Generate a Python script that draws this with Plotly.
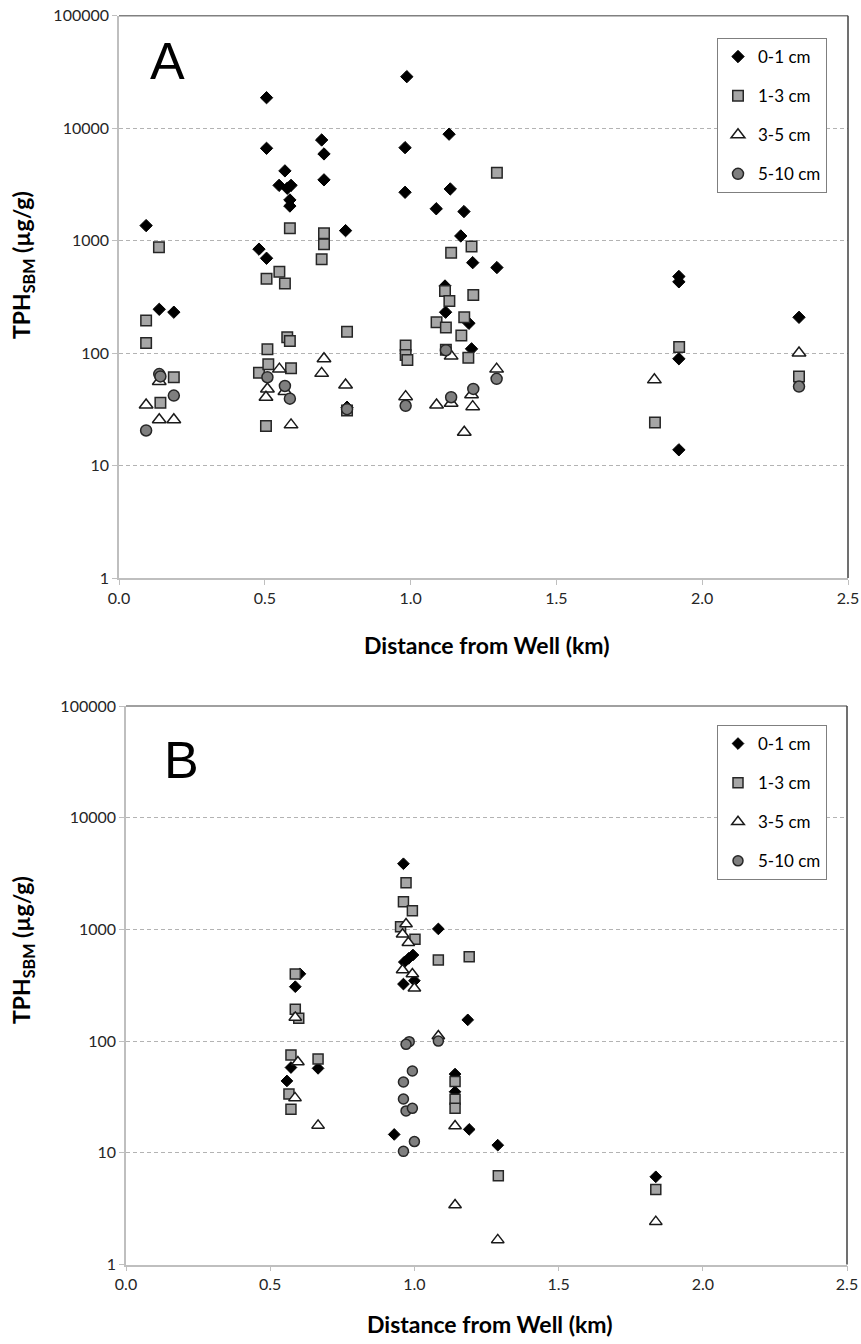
import plotly.graph_objects as go

# ---------------- Panel A data ----------------
A_d01_x = [0.093, 0.138, 0.188, 0.480, 0.506, 0.506, 0.506, 0.569, 0.549, 0.577, 0.590, 0.586, 0.586,
           0.695, 0.703, 0.703, 0.777, 0.782, 0.987, 0.981, 0.981, 1.088, 1.132, 1.136, 1.172, 1.183,
           1.213, 1.296, 1.118, 1.120, 1.200, 1.209, 1.920, 1.920, 1.920, 1.920, 2.332]
A_d01_y = [1360, 245, 231, 840, 18660, 6620, 697, 4170, 3100, 2920, 3100, 2300, 2030,
           7850, 5900, 3470, 1227, 33, 28700, 6710, 2690, 1920, 8840, 2880, 1100, 1813,
           637, 576, 395, 231, 184, 109, 480, 430, 89, 13.8, 208]

A_d13_x = [0.093, 0.093, 0.137, 0.142, 0.188, 0.480, 0.509, 0.512, 0.504, 0.506, 0.550, 0.569, 0.577,
           0.586, 0.586, 0.590, 0.695, 0.703, 0.703, 0.782, 0.782, 0.983, 0.983, 0.989, 1.089, 1.121,
           1.121, 1.118, 1.133, 1.139, 1.174, 1.184, 1.198, 1.209, 1.215, 1.296, 1.838, 1.921, 2.332]
A_d13_y = [195, 123, 873, 36.2, 61, 67, 108, 79.6, 22.5, 459, 530, 415, 138,
           128, 1290, 73.4, 684, 929, 1165, 155, 30.8, 117, 96, 87, 188, 169,
           107, 357, 291, 782, 143, 208, 91, 885, 329, 4020, 24.1, 113, 61.8]

A_d35_x = [0.093, 0.138, 0.138, 0.188, 0.509, 0.504, 0.550, 0.569, 0.590, 0.695, 0.703, 0.777,
           0.983, 1.089, 1.139, 1.139, 1.184, 1.209, 1.213, 1.295, 1.836, 2.332]
A_d35_y = [34.5, 55.8, 25.5, 25.5, 48, 40.5, 72, 45.5, 23, 66, 89, 52,
           41, 34.5, 94, 35.8, 19.8, 42.6, 33.4, 72, 57.8, 100]

A_d510_x = [0.093, 0.138, 0.142, 0.188, 0.509, 0.569, 0.586, 0.782, 0.983, 1.121, 1.139, 1.215, 1.295, 2.332]
A_d510_y = [20.5, 65, 62, 41.9, 61, 51, 39.3, 31.7, 34, 106, 40.5, 48, 59, 50.4]

# ---------------- Panel B data ----------------
B_d01_x = [0.558, 0.572, 0.587, 0.603, 0.666, 0.962, 0.930, 0.965, 0.980, 0.995, 0.962, 1.000,
           1.083, 1.141, 1.141, 1.185, 1.190, 1.289, 1.837]
B_d01_y = [44, 58, 307, 400, 57, 3870, 14.6, 510, 550, 590, 324, 347,
           1010, 50.7, 35.2, 155, 16.2, 11.7, 6.1]

B_d13_x = [0.572, 0.565, 0.572, 0.587, 0.587, 0.599, 0.666, 0.971, 0.962, 0.993, 0.952, 1.002,
           1.083, 1.190, 1.141, 1.141, 1.141, 1.291, 1.837]
B_d13_y = [75, 33.6, 24.5, 399, 193, 160, 69, 2620, 1770, 1470, 1057, 815,
           532, 570, 43.4, 30.1, 25, 6.23, 4.7]

B_d35_x = [0.587, 0.596, 0.586, 0.666, 0.971, 0.959, 0.979, 0.959, 0.993, 1.000, 1.083, 1.141,
           1.141, 1.289, 1.837]
B_d35_y = [163, 65, 31, 17.6, 1117, 904, 760, 433, 399, 297, 111, 17.4,
           3.41, 1.66, 2.42]

B_d510_x = [0.982, 0.971, 1.083, 0.993, 0.962, 0.962, 0.971, 0.993, 1.000, 0.962]
B_d510_y = [98.8, 93.5, 100, 54, 43, 30.3, 23.7, 25, 12.6, 10.3]

series_names = ["0-1 cm", "1-3 cm", "3-5 cm", "5-10 cm"]
tick_vals = [1, 10, 100, 1000, 10000, 100000]
tick_text = ["1", "10", "100", "1000", "10000", "100000"]
x_ticks = [0.0, 0.5, 1.0, 1.5, 2.0, 2.5]
x_tick_text = ["0.0", "0.5", "1.0", "1.5", "2.0", "2.5"]

styles = [
    dict(symbol="diamond", color="#000000", line=dict(color="#000000", width=1)),
    dict(symbol="square", color="#a6a6a6", line=dict(color="#262626", width=1.5)),
    dict(symbol="triangle-up", color="#ffffff", line=dict(color="#1a1a1a", width=1.5)),
    dict(symbol="circle", color="#7f7f7f", line=dict(color="#262626", width=1.5)),
]
sizes_A = [9.5, 10.5, 12, 11]
sizes_B = [9, 10, 11, 10]

W, H = 861, 1344
fig = go.Figure()

panelA = [(A_d01_x, A_d01_y), (A_d13_x, A_d13_y), (A_d35_x, A_d35_y), (A_d510_x, A_d510_y)]
panelB = [(B_d01_x, B_d01_y), (B_d13_x, B_d13_y), (B_d35_x, B_d35_y), (B_d510_x, B_d510_y)]

for i, (xs, ys) in enumerate(panelA):
    st = styles[i]
    fig.add_trace(go.Scatter(
        x=xs, y=ys, mode="markers", name=series_names[i],
        marker=dict(symbol=st["symbol"], size=sizes_A[i], color=st["color"], line=st["line"]),
        xaxis="x", yaxis="y", legend="legend", legendgroup="a%d" % i))
for i, (xs, ys) in enumerate(panelB):
    st = styles[i]
    fig.add_trace(go.Scatter(
        x=xs, y=ys, mode="markers", name=series_names[i],
        marker=dict(symbol=st["symbol"], size=sizes_B[i], color=st["color"], line=st["line"]),
        xaxis="x2", yaxis="y2", legend="legend2", legendgroup="b%d" % i))

TICKFONT = dict(family="Lato, Liberation Sans", size=16, color="#262626")
TITLEFONT = dict(family="Lato, Liberation Sans", size=23, color="#000000")

def xax(domain, anchor):
    return dict(domain=domain, anchor=anchor, range=[0, 2.5], tickvals=x_ticks, ticktext=x_tick_text,
                showgrid=False, zeroline=False, showline=True, linecolor="#bfbfbf", linewidth=1.5,
                ticks="outside", ticklen=5, tickcolor="#bfbfbf", tickfont=TICKFONT, automargin=False)

def yax(domain, anchor):
    return dict(domain=domain, anchor=anchor, type="log", range=[0, 5], tickvals=tick_vals, ticktext=tick_text,
                showgrid=True, gridcolor="#b3b3b3", griddash="4px,3px", gridwidth=1,
                zeroline=False, showline=True, linecolor="#bfbfbf", linewidth=1.5,
                ticks="outside", ticklen=5, tickcolor="#bfbfbf", tickfont=TICKFONT, automargin=False)

A_dom_x = [119 / W, 848 / W]
A_dom_y = [1 - 578 / H, 1 - 15.7 / H]
B_dom_x = [126 / W, 847 / W]
B_dom_y = [1 - 1264.5 / H, 1 - 706 / H]

LEGFONT = dict(family="Lato, Liberation Sans", size=17, color="#000000")
YTITLE = "<b>TPH<sub>SBM</sub> (µg/g)</b>"
XTITLE = "<b>Distance from Well (km)</b>"

fig.update_layout(
    width=W, height=H, paper_bgcolor="white", plot_bgcolor="white",
    margin=dict(l=0, r=0, t=0, b=0, autoexpand=False),
    xaxis=xax(A_dom_x, "y"), yaxis=yax(A_dom_y, "x"),
    xaxis2=xax(B_dom_x, "y2"), yaxis2=yax(B_dom_y, "x2"),
    legend=dict(x=717 / W, y=1 - 38 / H, xanchor="left", yanchor="top", bgcolor="white",
                bordercolor="#7f7f7f", borderwidth=1, font=LEGFONT, tracegroupgap=14, itemwidth=30),
    legend2=dict(x=717 / W, y=1 - 725 / H, xanchor="left", yanchor="top", bgcolor="white",
                 bordercolor="#7f7f7f", borderwidth=1, font=LEGFONT, tracegroupgap=14, itemwidth=30),
    showlegend=True,
    annotations=[
        dict(text="A", x=0.04, y=0.92, xref="x domain", yref="y domain", showarrow=False,
             xanchor="left", yanchor="middle", font=dict(family="Liberation Sans", size=52, color="#000")),
        dict(text="B", x=0.05, y=0.904, xref="x2 domain", yref="y2 domain", showarrow=False,
             xanchor="left", yanchor="middle", font=dict(family="Liberation Sans", size=52, color="#000")),
        dict(text=YTITLE, x=22 / W, y=1 - 265 / H, xref="paper", yref="paper", showarrow=False,
             textangle=-90, xanchor="center", yanchor="middle", font=TITLEFONT),
        dict(text=YTITLE, x=22 / W, y=1 - 950 / H, xref="paper", yref="paper", showarrow=False,
             textangle=-90, xanchor="center", yanchor="middle", font=TITLEFONT),
        dict(text=XTITLE, x=486 / W, y=1 - 645 / H, xref="paper", yref="paper", showarrow=False,
             xanchor="center", yanchor="middle", font=TITLEFONT),
        dict(text=XTITLE, x=489 / W, y=1 - 1324 / H, xref="paper", yref="paper", showarrow=False,
             xanchor="center", yanchor="middle", font=TITLEFONT),
    ],
    shapes=[
        dict(type="line", xref="x domain", yref="y domain", x0=0, x1=1, y0=1, y1=1,
             line=dict(color="#808080", width=1.5)),
        dict(type="line", xref="x domain", yref="y domain", x0=1, x1=1, y0=0, y1=1,
             line=dict(color="#404040", width=1.5)),
        dict(type="line", xref="x2 domain", yref="y2 domain", x0=0, x1=1, y0=1, y1=1,
             line=dict(color="#808080", width=1.5)),
        dict(type="line", xref="x2 domain", yref="y2 domain", x0=1, x1=1, y0=0, y1=1,
             line=dict(color="#404040", width=1.5)),
    ],
)

fig.write_html("out.html", config={"displayModeBar": False})

# remove the browser's default page margin so the figure sits at the top-left corner
with open("out.html", "r", encoding="utf-8") as f:
    html = f.read()
html = html.replace("<head>", "<head><style>html,body{margin:0;padding:0;overflow:hidden;}</style>", 1)
with open("out.html", "w", encoding="utf-8") as f:
    f.write(html)
